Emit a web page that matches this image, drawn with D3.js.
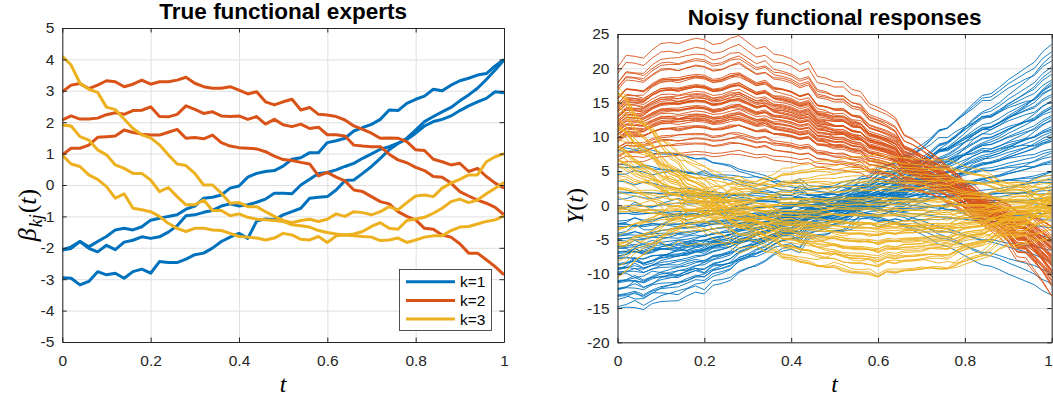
<!DOCTYPE html>
<html><head><meta charset="utf-8">
<script src="https://cdn.jsdelivr.net/npm/d3@7"></script>
<style>body{margin:0;background:#fff}svg{display:block}</style>
</head><body>
<svg id="chart" width="1053" height="398"></svg>
<script>
// ---------------- data ----------------
const tValues = [0,0.02,0.04,0.06,0.08,0.1,0.12,0.14,0.16,0.18,0.2,0.22,0.24,0.26,0.28,0.3,0.32,0.34,0.36,0.38,0.4,0.42,0.44,0.46,0.48,0.5,0.52,0.54,0.56,0.58,0.6,0.62,0.64,0.66,0.68,0.7,0.72,0.74,0.76,0.78,0.8,0.82,0.84,0.86,0.88,0.9,0.92,0.94,0.96,0.98,1];

// k = 1 experts (blue)
const beta11 = [-2.07,-2.02,-1.80,-1.97,-1.80,-1.64,-1.43,-1.38,-1.43,-1.33,-1.12,-1.06,-1.00,-0.95,-0.77,-0.67,-0.42,-0.39,-0.32,-0.10,-0.03,0.25,0.37,0.43,0.46,0.60,0.82,0.87,1.03,1.03,1.35,1.41,1.49,1.72,1.83,1.93,2.09,2.39,2.37,2.60,2.73,2.83,3.05,3.00,3.18,3.32,3.40,3.50,3.55,3.79,4.00];
const beta12 = [-2.07,-1.97,-1.80,-2.02,-2.13,-1.92,-2.06,-1.82,-1.76,-1.65,-1.70,-1.65,-1.50,-1.30,-0.98,-0.95,-0.87,-0.81,-0.67,-0.60,-0.67,-0.63,-0.55,-0.45,-0.26,-0.26,-0.28,0.00,0.18,0.37,0.40,0.48,0.59,0.69,0.85,0.99,1.14,1.22,1.33,1.45,1.65,1.88,2.02,2.09,2.20,2.37,2.52,2.65,2.76,2.97,2.94];
const beta13 = [-2.95,-2.97,-3.18,-3.07,-2.76,-2.86,-2.81,-2.97,-2.76,-2.68,-2.81,-2.44,-2.47,-2.47,-2.36,-2.22,-2.17,-2.01,-1.80,-1.66,-1.54,-1.70,-1.15,-1.08,-1.11,-0.95,-0.85,-0.74,-0.42,-0.39,-0.37,-0.16,0.14,0.16,0.37,0.59,0.85,1.12,1.32,1.49,1.75,2.02,2.18,2.33,2.47,2.68,2.87,3.08,3.36,3.66,3.98];
// k = 2 experts (red)
const beta21 = [2.97,3.18,3.23,3.07,3.18,3.32,3.29,3.13,3.21,3.34,3.21,3.29,3.29,3.34,3.43,3.24,3.13,3.08,3.08,3.13,3.02,2.90,2.97,2.65,2.55,2.65,2.73,2.39,2.47,2.25,2.23,2.18,2.07,1.88,1.77,1.65,1.49,1.50,1.49,1.38,1.12,1.10,0.82,0.74,0.64,0.69,0.43,0.53,0.27,0.06,-0.10];
const beta22 = [2.07,2.20,2.10,2.10,2.13,2.24,2.30,2.25,2.37,2.38,2.49,2.18,2.17,2.25,2.52,2.41,2.28,2.33,2.20,2.18,2.20,2.09,2.18,1.94,2.09,1.92,1.86,1.94,1.80,1.84,1.60,1.60,1.56,1.27,1.24,1.22,1.22,0.98,0.80,0.71,0.56,0.46,0.27,0.25,0.06,-0.21,-0.35,-0.48,-0.58,-0.71,-0.95];
const beta23 = [0.96,1.17,1.17,1.27,1.52,1.54,1.56,1.75,1.67,1.62,1.59,1.59,1.68,1.77,1.49,1.51,1.47,1.59,1.35,1.24,1.19,1.17,1.15,1.06,0.92,0.81,0.78,0.72,0.67,0.29,0.40,0.25,0.13,-0.16,-0.21,-0.37,-0.53,-0.60,-0.85,-1.00,-1.11,-1.38,-1.41,-1.59,-1.66,-1.87,-2.17,-2.17,-2.38,-2.60,-2.86];
// k = 3 experts (yellow)
const beta31 = [4.10,3.82,3.24,3.05,2.95,2.48,2.40,2.10,1.80,1.60,1.50,1.28,0.96,0.67,0.62,0.37,0.00,0.00,-0.26,-0.58,-0.56,-0.69,-0.69,-0.85,-1.00,-1.13,-1.20,-1.13,-1.09,-1.16,-1.09,-0.92,-1.00,-0.85,-0.88,-0.95,-0.85,-0.69,-0.79,-0.56,-0.35,-0.32,-0.37,-0.10,0.06,0.18,0.32,0.32,0.74,0.90,1.00];
const beta32 = [1.91,1.88,1.54,1.43,1.12,0.96,0.64,0.53,0.37,0.37,0.16,-0.21,-0.08,-0.37,-0.63,-0.63,-0.48,-0.81,-0.81,-0.98,-0.92,-1.03,-1.09,-1.11,-1.13,-1.16,-1.27,-1.30,-1.34,-1.45,-1.51,-1.56,-1.59,-1.56,-1.48,-1.32,-1.20,-1.38,-1.41,-1.13,-1.08,-1.03,-0.90,-0.74,-0.53,-0.45,-0.56,-0.48,-0.28,-0.10,0.08];
const beta33 = [0.95,0.67,0.59,0.32,0.18,-0.05,-0.42,-0.28,-0.74,-0.79,-0.85,-1.00,-1.22,-1.38,-1.48,-1.38,-1.38,-1.43,-1.45,-1.54,-1.64,-1.66,-1.69,-1.75,-1.69,-1.54,-1.59,-1.73,-1.75,-1.64,-1.83,-1.62,-1.59,-1.62,-1.64,-1.66,-1.77,-1.75,-1.69,-1.83,-1.75,-1.66,-1.62,-1.62,-1.45,-1.34,-1.32,-1.24,-1.16,-1.11,-0.98];

// per-response covariate weights [x1, x2, x3] (one row per curve)
const blueCovariates = [[2.65,2.15,1.65],[1.0,2.0,3.0],[3.4,2.0,0.4],[1.3,1.8,2.3],[2.5,1.6,0.9],[-0.15,1.65,3.45],[1.8,1.6,1.4],[3.55,1.55,-0.45],[1.2,1.7,1.8],[2.45,1.45,0.45],[0.2,1.4,2.6],[1.85,1.15,0.85],[0.7,1.3,1.9],[2.85,1.25,-0.35],[1.2,1.2,1.2],[-0.85,1.15,3.15],[1.8,1.2,0.4],[0.65,1.05,1.45],[2.2,1.0,-0.2],[-0.05,0.95,1.95],[1.2,0.9,0.6],[3.05,0.85,-1.35],[0.6,1.0,1.0],[1.65,0.75,-0.15],[-0.8,0.7,2.2],[1.05,0.65,0.25],[-0.1,0.6,1.3],[1.95,0.55,-0.85],[0.5,0.3,0.5],[-1.75,0.45,2.65],[1.0,0.4,-0.2],[-0.05,0.35,0.75],[2.1,0.3,-1.5],[-0.75,0.25,1.25],[0.4,0.2,0.0],[-0.4,0.1,0.6],[1.0,0.0,-1.0],[-1.4,-0.1,1.2],[0.2,-0.2,-0.6],[-0.5,-0.3,-0.1],[1.05,-0.45,-1.95],[-1.4,-0.6,0.2],[-0.45,-0.75,-1.05],[-1.3,-0.9,-0.5],[-0.45,-1.05,-1.65],[-1.2,-1.2,-1.2],[2.05,1.75,1.45],[0.82,1.62,2.42],[2.08,1.48,0.88],[1.42,1.32,1.22],[0.28,1.18,2.08],[1.42,1.02,0.62],[0.28,0.88,1.48],[0.92,0.72,0.52],[0.28,0.58,0.88],[1.85,1.85,1.85],[2.95,2.05,1.15],[2.58,1.38,0.18],[0.88,0.98,1.08],[0.95,0.15,-0.65]];
const redCovariates = [[1.3,1.0,0.7],[0.7,1.1,1.5],[1.8,1.2,0.6],[1.05,1.3,1.45],[1.4,1.3,1.2],[2.15,1.4,0.55],[0.7,1.4,2.1],[1.85,1.5,1.05],[1.2,1.5,1.8],[1.55,1.6,1.55],[2.5,1.6,0.7],[0.72,1.6,2.52],[2.15,1.7,1.15],[1.2,1.7,2.2],[1.92,1.75,1.52],[1.65,1.8,1.85],[2.5,1.8,1.1],[1.22,1.85,2.42],[2.15,1.9,1.55],[1.58,1.9,2.18],[3.0,1.9,0.8],[1.93,2.0,1.93],[0.96,1.95,2.96],[2.4,2.0,1.6],[1.82,2.05,2.22],[2.65,2.1,1.45],[1.38,2.1,2.78],[2.25,2.1,1.95],[1.73,2.2,2.53],[3.06,2.2,1.26],[2.1,2.2,2.3],[2.73,2.25,1.73],[1.46,2.3,3.06],[2.5,2.3,2.1],[1.83,2.35,2.83],[3.06,2.4,1.66],[2.4,2.4,2.4],[2.13,2.45,2.73],[2.86,2.5,2.06],[1.9,2.5,3.1],[2.65,2.55,2.45],[3.4,2.6,1.8],[2.45,2.65,2.85],[3.0,2.7,2.4],[1.85,2.75,3.65],[3.3,2.8,2.3],[2.8,2.9,3.0],[3.6,3.0,2.4],[2.7,3.1,3.5],[3.55,3.25,2.95],[1.93,1.6,1.23],[2.23,1.75,1.33],[2.53,2.2,1.83],[2.5,1.95,1.4],[1.97,2.1,2.27],[1.78,1.7,1.58]];
const yellowCovariates = [[2.6,2.4,2.2],[1.4,2.2,3.0],[2.7,2.1,1.5],[0.4,2.0,3.6],[2.9,1.9,0.9],[1.5,1.8,2.1],[3.2,1.7,0.2],[-0.6,1.6,3.8],[1.9,1.5,1.1],[0.4,1.4,2.4],[3.3,1.3,-0.7],[0.7,1.2,1.7],[2.0,1.1,0.2],[-0.8,1.0,2.8],[1.0,0.9,0.8],[2.1,0.8,-0.5],[0.0,0.7,1.4],[2.8,0.6,-1.6],[-0.7,0.5,1.7],[0.9,0.4,-0.1],[-2.2,0.3,2.8],[1.8,0.2,-1.4],[-0.3,0.1,0.5],[0.8,0.0,-0.8],[-1.6,-0.1,1.4],[0.1,-0.2,-0.5],[1.5,-0.3,-2.1],[-1.3,-0.4,0.5],[-0.5,-0.5,-0.5],[0.6,-0.6,-1.8],[-1.0,-0.7,-0.4],[-0.2,-0.8,-1.4],[-1.5,-0.9,-0.3],[-0.8,-1.0,-1.2],[-0.1,-1.1,-2.1],[-1.4,-1.2,-1.0],[-0.9,-1.3,-1.7],[-1.5,-1.5,-1.5],[-1.35,-1.65,-1.95],[1.35,1.05,0.75],[0.65,0.95,1.25],[1.45,0.85,0.25],[0.65,0.75,0.85],[1.05,0.65,0.25],[-0.05,0.55,1.15],[1.25,1.25,1.25],[2.05,1.35,0.65],[1.05,1.45,1.85],[1.75,1.55,1.35],[0.75,1.65,2.55],[2.25,1.75,1.25],[1.75,1.85,1.95],[0.35,0.35,0.35],[-0.55,0.25,1.05],[0.55,0.15,-0.25],[-0.25,-0.05,0.15],[1.9,2.3,2.7],[2.15,2.05,1.95],[0.95,1.15,1.35],[-0.75,-0.25,0.25]];

const legendLabels = ['k=1','k=2','k=3'];
const clusterColors = ['#0072BD','#D95319','#EDB120'];
const xTickValues = [0,0.2,0.4,0.6,0.8,1];
const leftYTickValues = [-5,-4,-3,-2,-1,0,1,2,3,4,5];
const rightYTickValues = [-20,-15,-10,-5,0,5,10,15,20,25];
const titles = ['True functional experts','Noisy functional responses'];

// ---------------- drawing ----------------
const svg = d3.select('#chart');
const FONT = '"Liberation Sans", Arial, Helvetica, sans-serif';
const SERIF = '"Liberation Serif", "Times New Roman", serif';
const AXC = '#262626';

const experts = [[beta11,beta12,beta13],[beta21,beta22,beta23],[beta31,beta32,beta33]];
const covariates = [blueCovariates, redCovariates, yellowCovariates];

function makePanel(id, box, yDomain, yTicks) {
  const x = d3.scaleLinear().domain([0,1]).range([box.x0, box.x1]);
  const y = d3.scaleLinear().domain(yDomain).range([box.y1, box.y0]);
  const g = svg.append('g');
  g.append('defs').append('clipPath').attr('id', id)
    .append('rect').attr('x', box.x0).attr('y', box.y0)
    .attr('width', box.x1 - box.x0).attr('height', box.y1 - box.y0);
  const grid = g.append('g').attr('class','grid');
  grid.append('g').attr('transform',`translate(0,${box.y1})`)
    .call(d3.axisBottom(x).tickValues(xTickValues).tickSize(-(box.y1-box.y0)).tickFormat(''))
    .call(s => s.select('.domain').remove());
  grid.append('g').attr('transform',`translate(${box.x0},0)`)
    .call(d3.axisLeft(y).tickValues(yTicks).tickSize(-(box.x1-box.x0)).tickFormat(''))
    .call(s => s.select('.domain').remove());
  grid.selectAll('line').attr('stroke','#e0e0e0').attr('stroke-width',1);
  const plot = g.append('g').attr('clip-path',`url(#${id})`);
  const axes = g.append('g');
  return {x, y, g, plot, axes, box};
}

function finishAxes(p, yTicks) {
  const {x, y, axes, box} = p;
  const TS = 4.5;
  const fmt = d => String(d);
  const bottom = axes.append('g').attr('transform',`translate(0,${box.y1})`)
    .call(d3.axisBottom(x).tickValues(xTickValues).tickSize(-TS).tickSizeOuter(0).tickPadding(12.5).tickFormat(fmt));
  axes.append('g').attr('transform',`translate(0,${box.y0})`)
    .call(d3.axisTop(x).tickValues(xTickValues).tickSize(-TS).tickSizeOuter(0).tickFormat(''));
  axes.append('g').attr('transform',`translate(${box.x0},0)`)
    .call(d3.axisLeft(y).tickValues(yTicks).tickSize(-TS).tickSizeOuter(0).tickPadding(8).tickFormat(fmt));
  axes.append('g').attr('transform',`translate(${box.x1},0)`)
    .call(d3.axisRight(y).tickValues(yTicks).tickSize(-TS).tickSizeOuter(0).tickFormat(''));
  axes.selectAll('.domain').attr('stroke', AXC).attr('stroke-width', 1);
  axes.selectAll('.tick line').attr('stroke', AXC).attr('stroke-width', 1);
  axes.selectAll('.tick text').attr('fill', AXC).style('font-family', FONT).style('font-size','15.5px');
  return bottom;
}

// ---- Left panel ----
const L = makePanel('clipL', {x0:62.3, x1:504, y0:28, y1:342}, [-5,5], leftYTickValues);
const line = (p) => d3.line().x((d,i) => p.x(tValues[i])).y(d => p.y(d));
experts.forEach((set, k) => {
  set.forEach(vals => {
    L.plot.append('path').datum(vals).attr('d', line(L))
      .attr('fill','none').attr('stroke', clusterColors[k]).attr('stroke-width', 3)
      .attr('stroke-linejoin','round');
  });
});
finishAxes(L, leftYTickValues);

// legend
const lg = L.g.append('g');
lg.append('rect').attr('x',399.5).attr('y',269.5).attr('width',92).attr('height',61)
  .attr('fill','#fff').attr('stroke', AXC).attr('stroke-width',0.8);
legendLabels.forEach((lab, k) => {
  const yy = 281.7 + k*18.7;
  lg.append('line').attr('x1',406).attr('x2',455).attr('y1',yy).attr('y2',yy)
    .attr('stroke', clusterColors[k]).attr('stroke-width',3);
  lg.append('text').attr('x',460).attr('y',yy+5.5).text(lab)
    .style('font-family',FONT).style('font-size','15.5px').attr('fill','#000');
});

// ---- Right panel ----
const R = makePanel('clipR', {x0:617.5, x1:1051.7, y0:34, y1:342.3}, [-20,25], rightYTickValues);
covariates.forEach((rows, k) => {
  const [b1,b2,b3] = experts[k];
  rows.forEach(w => {
    const vals = tValues.map((t, j) => w[0]*b1[j] + w[1]*b2[j] + w[2]*b3[j]);
    R.plot.append('path').datum(vals).attr('d', line(R))
      .attr('fill','none').attr('stroke', clusterColors[k]).attr('stroke-width', 0.9)
      .attr('stroke-linejoin','round');
  });
});
const rb = finishAxes(R, rightYTickValues);
// keep the last tick label "1" inside the picture
rb.selectAll('.tick text').filter(d => d === 1).attr('text-anchor','end').attr('x', 0.6);

// ---- titles ----
svg.append('text').attr('x', (62.3+504)/2).attr('y', 18.5).attr('text-anchor','middle')
  .style('font-family',FONT).style('font-weight','bold').style('font-size','22.5px').text(titles[0]);
svg.append('text').attr('x', (617.5+1051.7)/2).attr('y', 25).attr('text-anchor','middle')
  .style('font-family',FONT).style('font-weight','bold').style('font-size','22.5px').text(titles[1]);

// ---- axis labels ----
function tLabel(cx) {
  svg.append('text').attr('x', cx).attr('y', 392).attr('text-anchor','middle')
    .style('font-family',SERIF).style('font-style','italic').style('font-size','24px').text('t');
}
tLabel((62.3+504)/2);
tLabel((617.5+1051.7)/2);

const yl = svg.append('text').attr('transform','translate(36,215) rotate(-90)').attr('text-anchor','middle')
  .style('font-family',SERIF).style('font-size','26px');
yl.append('tspan').style('font-style','italic').text('β');
yl.append('tspan').style('font-style','italic').style('font-size','18px').attr('dy',6).attr('dx',1).text('kj');
yl.append('tspan').attr('dy',-6).attr('dx',1).text('(');
yl.append('tspan').style('font-style','italic').text('t');
yl.append('tspan').text(')');

const yr = svg.append('text').attr('transform','translate(583,206) rotate(-90)').attr('text-anchor','middle')
  .style('font-family',SERIF).style('font-size','24px');
yr.append('tspan').style('font-style','italic').text('Y');
yr.append('tspan').text('(');
yr.append('tspan').style('font-style','italic').text('t');
yr.append('tspan').text(')');
</script>
</body></html>
